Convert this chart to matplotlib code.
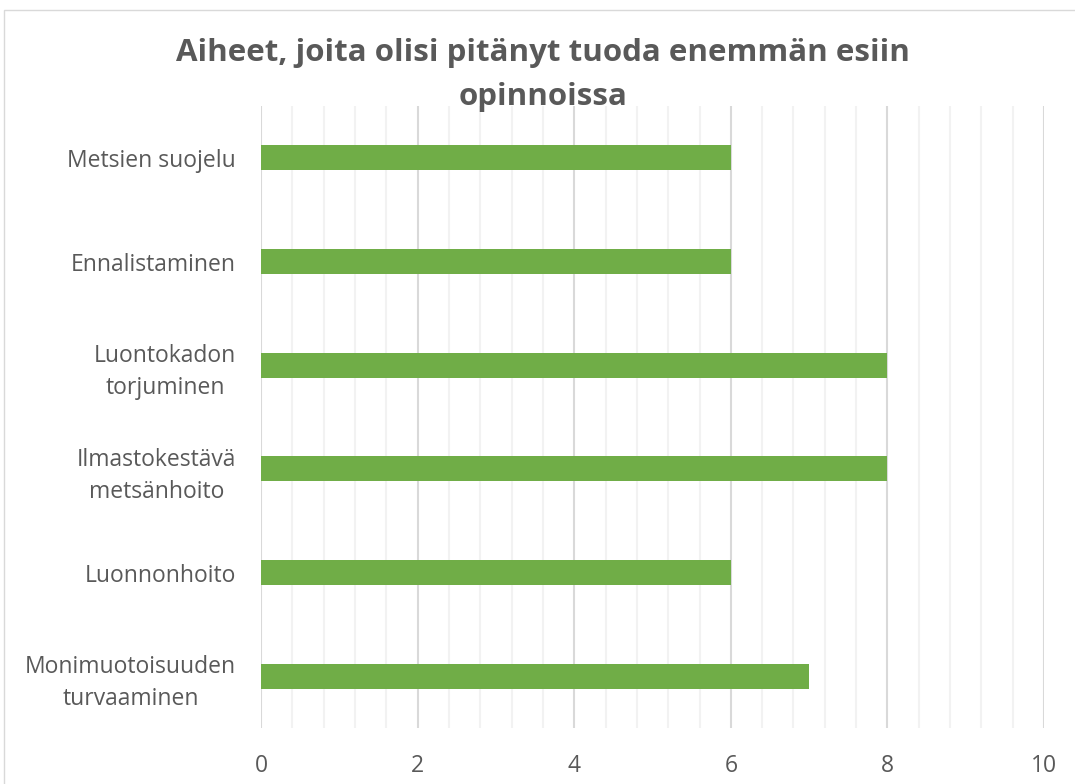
import matplotlib.pyplot as plt
import matplotlib.patches as patches
from matplotlib.ticker import MultipleLocator

aiheet = ['Monimuotoisuuden\nturvaaminen', 'Luonnonhoito', 'Ilmastokestävä\nmetsänhoito',
          'Luontokadon\ntorjuminen', 'Ennalistaminen', 'Metsien suojelu']
maarat = [7, 6, 8, 8, 6, 6]

harmaa = '#595959'
plt.rcParams['font.family'] = ['Open Sans', 'DejaVu Sans']

fig = plt.figure(figsize=(10.75, 7.84), dpi=100)
ax = fig.add_axes([0.2428, 0.0714, 0.7284, 0.7934])

# kehys koko kaavion ympärillä (rajattu oikealta ja alhaalta)
fig.patches.append(patches.Rectangle((4 / 1075, -0.05), 1.1, 1 - 10 / 784 + 0.05,
                                     transform=fig.transFigure, fill=False,
                                     edgecolor='#D9D9D9', linewidth=1))

ax.barh(range(len(aiheet)), maarat, height=0.24, color='#70AD47', zorder=3)

ax.set_xlim(0, 10)
ax.set_ylim(-0.5, len(aiheet) - 0.5)
ax.xaxis.set_major_locator(MultipleLocator(2))
ax.xaxis.set_minor_locator(MultipleLocator(0.4))
ax.grid(axis='x', which='major', color='#D9D9D9', linewidth=1.5, zorder=0)
ax.grid(axis='x', which='minor', color='#F2F2F2', linewidth=1.5, zorder=0)

ax.set_yticks(range(len(aiheet)))
ax.set_yticklabels(aiheet, ha='right', multialignment='center', linespacing=1.45)
ax.tick_params(axis='y', length=0, pad=18, labelsize=16.5, labelcolor=harmaa)
ax.tick_params(axis='x', which='both', length=0, pad=19, labelsize=16.5, labelcolor=harmaa)

for s in ax.spines.values():
    s.set_visible(False)

fig.text(0.505, 0.904, 'Aiheet, joita olisi pitänyt tuoda enemmän esiin\nopinnoissa',
         ha='center', va='center', fontsize=22.5, fontweight='bold', color=harmaa,
         linespacing=1.6)

fig.savefig('out.png', dpi=100)
